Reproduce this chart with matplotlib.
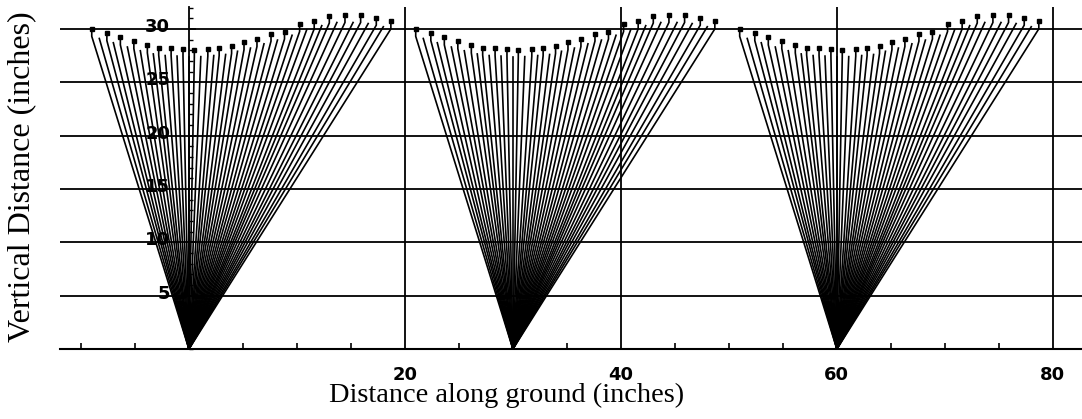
import numpy as np
import matplotlib.pyplot as plt
import matplotlib.transforms as mtransforms
from matplotlib.ticker import MultipleLocator

# foot positions on the ground (inches)
feet = [0, 30, 60]

# snapshots with the torso drawn: hip x offset from the foot, top of torso
hip_dx = [-9.0, -7.6, -6.35, -5.1, -3.85, -2.8, -1.65, -0.55, 0.5, 1.75, 2.8, 3.95,
          5.1, 6.3, 7.6, 8.85, 10.25, 11.6, 13.0, 14.45, 15.9, 17.35, 18.7]
top_y = [30.0, 29.6, 29.2, 28.85, 28.45, 28.25, 28.2, 28.1, 28.05, 28.15, 28.2, 28.4,
         28.75, 29.05, 29.55, 29.75, 30.45, 30.7, 31.25, 31.3, 31.3, 31.05, 30.7]
stick = 0.7  # torso length above the hip

# in-between snapshots, leg only
mid_dx = [-8.3, -7.0, -5.7, -4.5, -3.3, -2.2, -1.1, 0.0, 1.1, 2.3, 3.4, 4.5, 5.7,
          6.95, 8.2, 9.55, 10.9, 12.3, 13.7, 15.2, 16.6, 18.0]
mid_y = [29.1, 28.7, 28.3, 27.95, 27.65, 27.5, 27.45, 27.4, 27.4, 27.5, 27.6, 27.9,
         28.2, 28.6, 28.95, 29.4, 29.9, 30.3, 30.6, 30.6, 30.5, 30.2]

xgrid = [20, 40, 60, 80]
ygrid = [5, 10, 15, 20, 25, 30]

fig = plt.figure(figsize=(10.82, 4.19), dpi=100)
ax = fig.add_axes([60 / 1082, 70 / 419, 1022 / 1082, 342 / 419])
ax.set_xlim(-11.94, 82.7)
ax.set_ylim(0, 32.05)

lw = 1.2
for f in feet:
    for dx, ty in zip(hip_dx, top_y):
        hx = f + dx
        hy = ty - stick
        ax.plot([f, hx, hx], [0, hy, ty], color='black', lw=lw, zorder=3)
        ax.plot(hx, ty, marker='s', ms=3.2, color='black', zorder=3)
    for dx, hy in zip(mid_dx, mid_y):
        ax.plot([f, f + dx], [0, hy], color='black', lw=lw, zorder=3)

# y axis sits at x=0, crossing the ground line
for s in ['top', 'right']:
    ax.spines[s].set_visible(False)
ax.spines['left'].set_position(('data', 0))
ax.spines['left'].set_linewidth(1.3)
ax.spines['bottom'].set_linewidth(1.5)

ax.set_xticks(xgrid)
ax.xaxis.set_minor_locator(MultipleLocator(5))
ax.set_yticks(ygrid)
ax.yaxis.set_minor_locator(MultipleLocator(1))
ax.tick_params(axis='x', which='major', direction='in', length=0, pad=12)
ax.tick_params(axis='x', which='minor', direction='in', length=4, width=1.2)
ax.tick_params(axis='y', which='major', direction='in', length=5, width=1.2, pad=13.5)
ax.tick_params(axis='y', which='minor', direction='in', length=3, width=1)
for lab in ax.get_xticklabels() + ax.get_yticklabels():
    lab.set_fontfamily('DejaVu Sans')
    lab.set_fontsize(13)
    lab.set_fontweight('bold')

# y labels sit a little above their grid lines
lift = mtransforms.ScaledTranslation(0, 4 / 100, fig.dpi_scale_trans)
for lab in ax.get_yticklabels():
    lab.set_transform(lab.get_transform() + lift)

ax.grid(True, which='major', color='black', lw=1.3)

fig.text(22 / 1082, 1 - 177 / 419, 'Vertical Distance (inches)', rotation=90,
         ha='center', va='center', family='Liberation Serif', fontsize=23)
fig.text(507 / 1082, 1 - 402 / 419, 'Distance along ground (inches)',
         ha='center', va='baseline', family='Liberation Serif', fontsize=20.4)

fig.savefig('out.png', dpi=100)
